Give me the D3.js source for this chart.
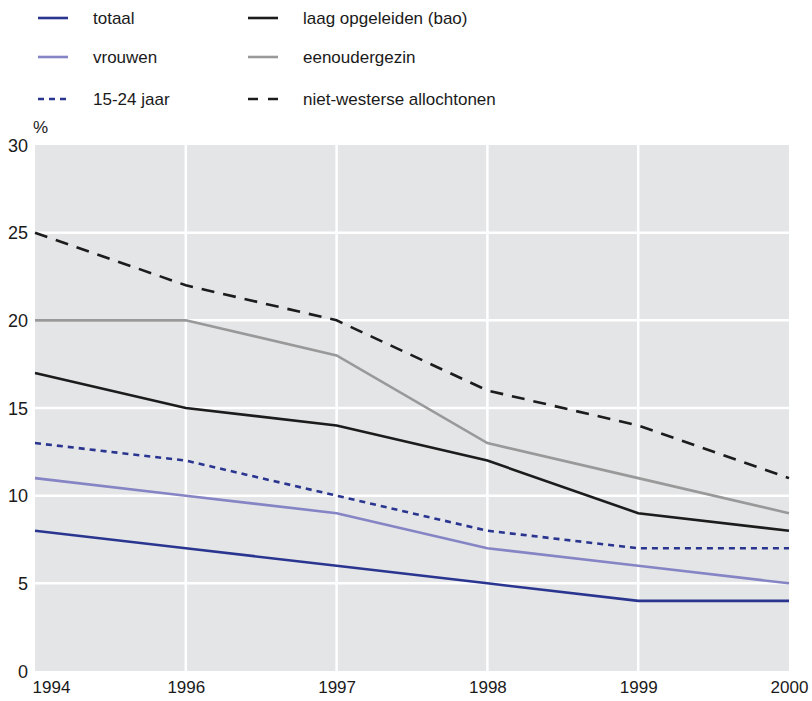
<!DOCTYPE html>
<html><head><meta charset="utf-8">
<script src="https://cdn.jsdelivr.net/npm/d3@7"></script>
<style>body{margin:0;background:#fff}svg{display:block;font-family:"Liberation Sans",Arial,sans-serif}</style>
</head><body><svg id="c" width="812" height="701"></svg>
<script>
const years = ["1994","1996","1997","1998","1999","2000"];
const yTicks = [0,5,10,15,20,25,30];
const totaal = [8,7,6,5,4,4];
const vrouwen = [11,10,9,7,6,5];
const jong = [13,12,10,8,7,7];
const laag = [17,15,14,12,9,8];
const eenouder = [20,20,18,13,11,9];
const nietWesters = [25,22,20,16,14,11];
const seriesNames = ["totaal","vrouwen","15-24 jaar","laag opgeleiden (bao)","eenoudergezin","niet-westerse allochtonen"];

const series = [
  {name:seriesNames[0], values:totaal, color:"#2a3590", dash:null},
  {name:seriesNames[1], values:vrouwen, color:"#8584c4", dash:null},
  {name:seriesNames[2], values:jong, color:"#2a3590", dash:"6,5"},
  {name:seriesNames[3], values:laag, color:"#1c1c1c", dash:null},
  {name:seriesNames[4], values:eenouder, color:"#999999", dash:null},
  {name:seriesNames[5], values:nietWesters, color:"#1c1c1c", dash:"13,9"}
];

const svg = d3.select("#c");
const L=35,R=789,T=145,B=671;
const x = d3.scalePoint().domain(years).range([L,R]).padding(0);
const y = d3.scaleLinear().domain([0,30]).range([B,T]);

svg.append("rect").attr("x",L).attr("y",T).attr("width",R-L).attr("height",B-T).attr("fill","#e4e5e7");
// gridlines
svg.append("g").selectAll("line").data(years.slice(1,-1)).join("line")
  .attr("x1",d=>x(d)).attr("x2",d=>x(d)).attr("y1",T).attr("y2",B)
  .attr("stroke","#fff").attr("stroke-width",2.5);
svg.append("g").selectAll("line").data(yTicks.slice(1,-1)).join("line")
  .attr("x1",L).attr("x2",R).attr("y1",d=>y(d)).attr("y2",d=>y(d))
  .attr("stroke","#fff").attr("stroke-width",2.5);

// axes
const ya = svg.append("g").attr("transform",`translate(${L},0)`)
  .call(d3.axisLeft(y).tickValues(yTicks).tickSize(0).tickPadding(7));
ya.select(".domain").remove();
ya.selectAll("text").attr("font-size",18).attr("fill","#1a1a1a").attr("font-family","Liberation Sans, Arial, sans-serif").attr("dy","0.35em");
const xa = svg.append("g").attr("transform",`translate(0,${B})`)
  .call(d3.axisBottom(x).tickSize(0).tickPadding(10));
xa.select(".domain").remove();
xa.selectAll("text").attr("font-size",17).attr("fill","#1a1a1a").attr("font-family","Liberation Sans, Arial, sans-serif")
  .attr("dy","0.71em")
  .attr("dx",(d,i)=> i===0 ? 16 : 0);
svg.append("text").attr("x",33).attr("y",133).attr("font-size",17).attr("fill","#1a1a1a").text("%");

// lines
const line = d3.line().x((d,i)=>x(years[i])).y(d=>y(d));
svg.append("g").selectAll("path").data(series).join("path")
  .attr("d",d=>line(d.values)).attr("fill","none")
  .attr("stroke",d=>d.color).attr("stroke-width",2.6)
  .attr("stroke-dasharray",d=>d.dash);

// legend
const leg = svg.append("g");
series.forEach((s,i)=>{
  const col = i<3?0:1, row = i%3;
  const lx = col===0?38:248, ly=[18,57,99][row];
  const tx = col===0?93:303;
  leg.append("line").attr("x1",lx).attr("x2",lx+30).attr("y1",ly).attr("y2",ly)
    .attr("stroke",s.color).attr("stroke-width",2.6)
    .attr("stroke-dasharray", s.dash? (s.dash==="6,5"?"6,5":"10,10") : null);
  leg.append("text").attr("x",tx).attr("y",ly).attr("dy","0.35em")
    .attr("font-size",17).attr("fill","#1a1a1a").text(s.name);
});
</script></body></html>
